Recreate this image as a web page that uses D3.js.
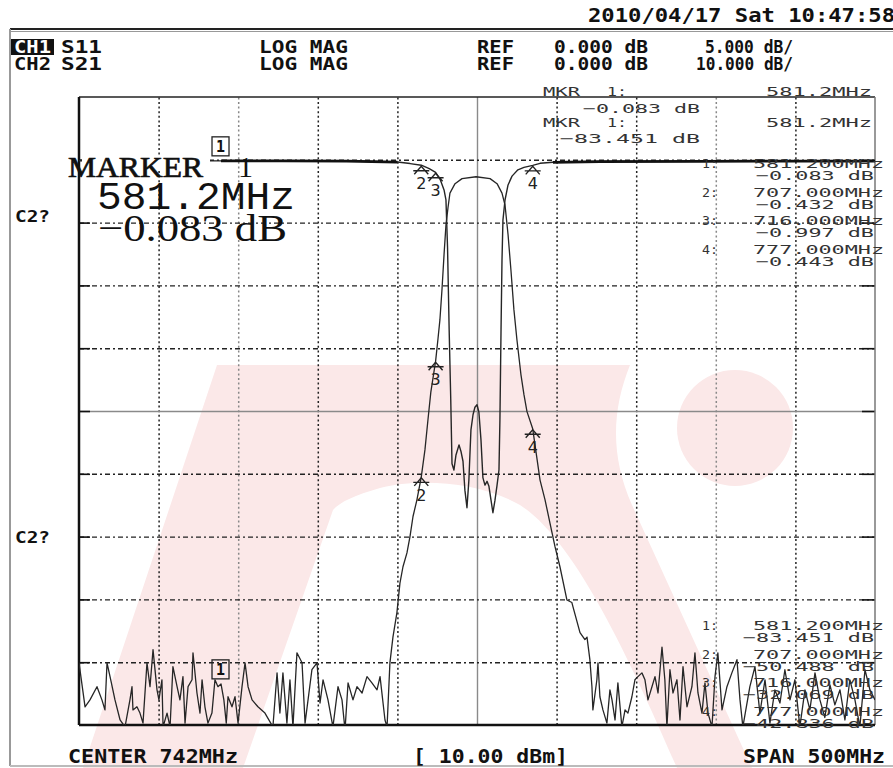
<!DOCTYPE html>
<html>
<head>
<meta charset="utf-8">
<script src="https://cdn.jsdelivr.net/npm/d3@7"></script>
<style>
body { margin: 0; background: #fff; }
svg { display: block; }
</style>
</head>
<body>
<script>
// sweep / channel settings
var centerMHz = 742, spanMHz = 500;
var s11Ref = 0, s11Div = 5;
var s21Ref = 0, s21Div = 10;

// grid positions (MHz and S21 dB)
var freqGrid = [542, 592, 642, 692, 742, 792, 842, 892, 942];
var dbGrid = [0, -10, -20, -30, -40, -50, -60, -70, -80];

// CH1 S11 trace [MHz, dB]
var s11Trace = [
  [492,-0.08],[540,-0.08],[581.2,-0.083],[620,-0.09],[660,-0.1],[692,-0.18],[700,-0.3],
  [707,-0.432],[712,-0.7],[716,-0.997],[719,-1.6],[721.3,-2.4],[722.5,-3.2],[723.5,-7.0],
  [724.5,-13.5],[725.5,-19.0],[726.3,-24.2],[727.5,-24.7],[728.8,-23.5],[730.7,-22.7],
  [731.9,-23.2],[733.2,-24.0],[734.4,-26.3],[735.7,-27.7],[736.9,-25.5],[738.2,-21.5],
  [739.5,-20.3],[740.7,-19.7],[742.0,-19.5],[743.2,-20.1],[744.5,-22.3],[745.7,-25.3],
  [747.0,-25.9],[748.3,-25.6],[749.5,-26.0],[750.8,-27.1],[752.0,-28.1],[753.3,-27.1],
  [754.6,-25.9],[755.8,-24.7],[756.4,-20.7],[757.1,-13.5],[757.7,-8.0],[758.3,-4.8],
  [759.6,-3.2],[761.5,-2.0],[764.0,-1.3],[767.7,-0.8],[771.5,-0.6],[777,-0.443],
  [781.6,-0.28],[789.7,-0.2],[819.2,-0.14],[882.1,-0.12],[992,-0.1]
];
// flat parts of S11 drawn heavy
var s11Heavy = [[576, 692], [789, 992]];

// CH2 S21 trace [MHz, dB]
var s21Trace = [
  [492,-80.1],[495.8,-87.1],[498.9,-86.0],[503.3,-83.9],[506.4,-86.0],[508.3,-87.6],[509.6,-80.1],
  [511.5,-82.3],[514.6,-86.0],[517.8,-89.2],[520.9,-90.3],[524.0,-86.0],[525.3,-83.9],[525.9,-87.6],
  [528.4,-87.1],[530.3,-88.1],[532.2,-89.7],[534.7,-80.1],[536.6,-83.9],[538.5,-78.0],[541.0,-84.4],
  [542.2,-86.0],[544.1,-82.8],[544.8,-90.3],[547.3,-88.1],[549.2,-90.3],[551.0,-80.7],[553.6,-83.9],
  [555.4,-86.0],[557.3,-82.3],[558.6,-89.7],[560.5,-83.9],[563.0,-82.8],[563.6,-78.5],[566.1,-84.9],
  [568.0,-88.1],[569.3,-82.8],[571.1,-87.1],[573.0,-89.7],[575.5,-88.1],[577.4,-82.8],[579.3,-83.9],
  [581.2,-83.451],[583.0,-86.0],[584.5,-89.7],[585.6,-85.5],[588.1,-87.1],[590.0,-85.5],[591.9,-89.7],
  [594.4,-83.9],[596.3,-80.1],[598.2,-83.9],[600.7,-86.0],[604.4,-87.1],[608.8,-88.1],[613.8,-90.3],
  [616.4,-81.7],[618.2,-88.1],[620.1,-81.7],[622.6,-89.7],[624.5,-82.8],[626.4,-90.3],[628.9,-78.5],
  [632.1,-80.1],[634.0,-89.7],[638.3,-81.2],[641.5,-80.1],[643.4,-86.5],[645.3,-82.8],[648.4,-86.0],
  [651.5,-90.3],[654.7,-83.9],[657.2,-86.0],[659.1,-90.8],[661.0,-83.3],[664.1,-86.0],[666.6,-83.9],
  [669.8,-84.9],[672.9,-82.3],[676.0,-83.3],[679.2,-84.4],[681.1,-82.3],[684.2,-89.2],[685.5,-90.3],
  [687.3,-80.1],[689.2,-76.0],[691.7,-72.1],[693.6,-67.4],[695.5,-64.8],[698.0,-62.6],[699.9,-60.0],
  [701.8,-56.8],[704.3,-54.1],[707,-50.488],[709.3,-46.2],[711.2,-41.4],[713.0,-37.0],[716,-32.069],
  [717.5,-28.5],[718.7,-25.5],[720.0,-20.7],[721.3,-15.1],[722.5,-10.4],[723.8,-7.6],[725.0,-5.3],
  [728.2,-3.8],[732.6,-3.0],[741.4,-2.7],[750.2,-3.0],[754.6,-3.8],[757.7,-5.3],[759.6,-7.2],
  [761.5,-11.9],[763.3,-17.5],[765.2,-23.9],[767.1,-28.7],[769.6,-34.2],[771.5,-37.4],[773.4,-40.1],
  [777,-42.836],[781.6,-51.0],[784.7,-54.1],[787.8,-57.8],[791.0,-61.6],[794.1,-64.8],[798.5,-70.1],
  [801.6,-70.5],[802.3,-71.2],[806.7,-75.3],[809.8,-76.4],[811.1,-76.0],[812.9,-79.6],[814.2,-83.9],
  [814.8,-87.6],[817.3,-82.8],[818.0,-80.1],[819.2,-85.5],[821.1,-87.6],[823.6,-89.7],[825.5,-84.4],
  [826.8,-86.0],[828.7,-89.2],[830.5,-83.3],[833.0,-90.3],[835.0,-87.6],[836.8,-88.1],[839.3,-85.5],
  [841.2,-82.8],[843.1,-82.3],[845.6,-81.7],[847.5,-82.8],[849.4,-86.0],[851.9,-83.9],[853.8,-82.3],
  [855.7,-84.9],[858.2,-77.6],[860.0,-82.8],[861.3,-90.3],[863.2,-81.2],[865.1,-84.9],[867.6,-82.8],
  [869.5,-89.2],[871.4,-80.7],[873.9,-87.1],[877.0,-83.9],[878.9,-78.5],[880.8,-84.9],[883.3,-88.1],
  [885.2,-83.3],[887.1,-88.1],[889.6,-90.3],[891.5,-82.3],[893.3,-78.5],[895.9,-87.6],[899.0,-83.9],
  [902.1,-81.7],[905.3,-79.6],[907.2,-86.0],[909.0,-90.3],[913.4,-83.9],[916.6,-80.7],[919.7,-88.1],
  [922.9,-82.8],[926.0,-89.7],[929.1,-84.4],[932.3,-86.5],[935.4,-81.2],[938.6,-86.0],[941.7,-82.8],
  [944.8,-90.3],[948.0,-84.4],[951.1,-87.6],[954.3,-81.7],[957.4,-86.0],[960.5,-88.8],[963.7,-83.6],
  [966.8,-86.8],[970.0,-84.4],[973.1,-89.2],[976.2,-82.8],[979.4,-86.0],[982.5,-90.3],[985.7,-81.2],
  [988.8,-84.4],[992,-86.0]
];

// markers
var mkrFreq = [581.2, 707, 716, 777];
var mkrS11 = [-0.083, -0.432, -0.997, -0.443];
var mkrS21 = [-83.451, -50.488, -32.069, -42.836];

// header / footer labels
var stamp = "2010/04/17 Sat 10:47:58";
var chanNames = ["CH1", "CH2"];
var chanParams = ["S11", "S21"];
var chanFormat = ["LOG MAG", "LOG MAG"];
var chanRef = ["0.000 dB", "0.000 dB"];
var chanScale = ["5.000 dB/", "10.000 dB/"];
var footer = ["CENTER 742MHz", "[ 10.00 dBm]", "SPAN 500MHz"];

var W = 893, H = 768;
var plot = {left: 79, top: 97, right: 875, bottom: 725};
var bitFont = "'DejaVu Sans Mono', monospace";
var vecFont = "'DejaVu Sans Mono', monospace";

var svg = d3.select("body").append("svg").attr("width", W).attr("height", H);

var x = d3.scaleLinear().domain([centerMHz - spanMHz / 2, centerMHz + spanMHz / 2]).range([plot.left, plot.right]);
var yS11 = d3.scaleLinear().domain([s11Ref + s11Div, s11Ref - 9 * s11Div]).range([plot.top, plot.bottom]);
var yS21 = d3.scaleLinear().domain([s21Ref + s21Div, s21Ref - 9 * s21Div]).range([plot.top, plot.bottom]);

function txt(g, px, py, s, o) {
  var t = g.append("text").attr("x", px).attr("y", py).text(s)
    .attr("font-family", o.font || bitFont)
    .attr("font-size", o.size || 16)
    .attr("font-weight", o.weight || "normal")
    .attr("fill", o.fill || "#111");
  if (o.len) t.attr("textLength", o.len).attr("lengthAdjust", "spacingAndGlyphs");
  if (o.anchor) t.attr("text-anchor", o.anchor);
  if (o.stroke) t.attr("stroke", o.fill || "#111").attr("stroke-width", o.stroke);
  return t;
}

// pale watermark logo
var wm = svg.append("g").attr("fill", "#fbe8e8");
wm.append("path").attr("d",
  "M83,768 L217,365 L630,365 C612,410 610,455 632,505 L752,768 L677,768 " +
  "C630,660 575,540 520,505 C480,482 420,478 380,488 C355,495 340,502 333,510 L243,768 Z");
wm.append("circle").attr("cx", 735).attr("cy", 428).attr("r", 58);

// outer frame
svg.append("line").attr("x1", 10).attr("x2", W).attr("y1", 29).attr("y2", 29).attr("stroke", "#222").attr("stroke-width", 2);
svg.append("line").attr("x1", 10).attr("x2", W).attr("y1", 31.5).attr("y2", 31.5).attr("stroke", "#999").attr("stroke-width", 1);
svg.append("line").attr("x1", 10).attr("x2", 10).attr("y1", 29).attr("y2", 766).attr("stroke", "#999").attr("stroke-width", 2);
svg.append("line").attr("x1", 10).attr("x2", W).attr("y1", 766).attr("y2", 766).attr("stroke", "#bbb").attr("stroke-width", 2);

// vertical grid
var gx = svg.append("g").attr("transform", "translate(0," + plot.bottom + ")")
  .call(d3.axisBottom(x).tickValues(freqGrid).tickSize(-(plot.bottom - plot.top)).tickFormat(""));
gx.select(".domain").remove();
gx.selectAll(".tick line")
  .attr("stroke", function(d) { return d === centerMHz ? "#8a8a8a" : (d === 592 || d === 892 ? "#888" : "#222"); })
  .attr("stroke-width", function(d) { return d === centerMHz ? 1.4 : 1.5; })
  .attr("stroke-dasharray", function(d) { return d === centerMHz ? null : "2,2.6"; });

// horizontal grid
var gy = svg.append("g").attr("transform", "translate(" + plot.left + ",0)")
  .call(d3.axisLeft(yS21).tickValues(dbGrid).tickSize(-(plot.right - plot.left)).tickFormat(""));
gy.select(".domain").remove();
gy.selectAll(".tick line")
  .attr("stroke", function(d) { return d === -40 ? "#8a8a8a" : "#222"; })
  .attr("stroke-width", 1.4)
  .attr("stroke-dasharray", function(d) { return d === -40 ? null : "5,3,2,3"; });
var gyL = svg.append("g").attr("transform", "translate(" + plot.left + ",0)")
  .call(d3.axisLeft(yS21).tickValues(dbGrid).tickSize(-11).tickFormat(""));
gyL.select(".domain").remove();
gyL.selectAll(".tick line").attr("stroke", "#111").attr("stroke-width", 1.6);
var gyR = svg.append("g").attr("transform", "translate(" + plot.right + ",0)")
  .call(d3.axisRight(yS21).tickValues(dbGrid).tickSize(-13).tickFormat(""));
gyR.select(".domain").remove();
gyR.selectAll(".tick line").attr("stroke", "#111").attr("stroke-width", 1.6);

// plot border
svg.append("line").attr("x1", plot.left).attr("x2", plot.right).attr("y1", plot.top).attr("y2", plot.top).attr("stroke", "#222").attr("stroke-width", 1.5);
svg.append("line").attr("x1", plot.right).attr("x2", plot.right).attr("y1", plot.top).attr("y2", plot.bottom).attr("stroke", "#777").attr("stroke-width", 1.5);
svg.append("line").attr("x1", plot.left).attr("x2", plot.left).attr("y1", plot.top).attr("y2", plot.bottom).attr("stroke", "#111").attr("stroke-width", 2.5);
svg.append("line").attr("x1", plot.left).attr("x2", plot.right).attr("y1", plot.bottom).attr("y2", plot.bottom).attr("stroke", "#111").attr("stroke-width", 2.5);

// traces
svg.append("clipPath").attr("id", "clip").append("rect")
  .attr("x", plot.left).attr("y", plot.top).attr("width", plot.right - plot.left).attr("height", plot.bottom - plot.top);
var traces = svg.append("g").attr("clip-path", "url(#clip)");
var lineS11 = d3.line().x(function(d) { return x(d[0]); }).y(function(d) { return yS11(d[1]); });
var lineS21 = d3.line().x(function(d) { return x(d[0]); }).y(function(d) { return yS21(d[1]); });

traces.append("path").datum(s21Trace).attr("d", lineS21)
  .attr("fill", "none").attr("stroke", "#262626").attr("stroke-width", 1.3).attr("stroke-linejoin", "round");
traces.append("path").datum(s11Trace).attr("d", lineS11)
  .attr("fill", "none").attr("stroke", "#262626").attr("stroke-width", 1.4).attr("stroke-linejoin", "round");
s11Heavy.forEach(function(r) {
  traces.append("path").datum(s11Trace.filter(function(d) { return d[0] >= r[0] && d[0] <= r[1]; }))
    .attr("d", lineS11).attr("fill", "none").attr("stroke", "#111").attr("stroke-width", 2.8);
});

// marker symbols
function markerSym(px, py, n) {
  var g = svg.append("g").attr("transform", "translate(" + px + "," + py + ")");
  g.append("path").attr("d", "M-7,9 L0,1 L7,9 M-8,5.5 L8,5.5").attr("fill", "none").attr("stroke", "#222").attr("stroke-width", 1.4);
  txt(g, 0, 24, n, {font: "'DejaVu Sans', sans-serif", size: 16, anchor: "middle", fill: "#222"});
}
function markerBox(px, py) {
  var g = svg.append("g").attr("transform", "translate(" + px + "," + py + ")");
  g.append("rect").attr("x", -9).attr("y", -24).attr("width", 17).attr("height", 19)
    .attr("fill", "none").attr("stroke", "#222").attr("stroke-width", 1.3);
  txt(g, -0.5, -8.5, "1", {font: bitFont, size: 15, weight: "bold", anchor: "middle"});
}
for (var i = 1; i < mkrFreq.length; i++) {
  markerSym(x(mkrFreq[i]), yS11(mkrS11[i]), String(i + 1));
  markerSym(x(mkrFreq[i]), yS21(mkrS21[i]), String(i + 1));
}
markerBox(x(mkrFreq[0]), yS11(mkrS11[0]));
markerBox(x(mkrFreq[0]), yS21(mkrS21[0]));

// header
txt(svg, 588, 22, stamp, {size: 19, weight: "bold", len: 307});
[53, 70].forEach(function(by, k) {
  if (k === 0) svg.append("rect").attr("x", 11).attr("y", by - 14).attr("width", 43).attr("height", 16).attr("fill", "#111");
  txt(svg, 14, by, chanNames[k], {size: 18, weight: "bold", len: 37, fill: k === 0 ? "#fff" : "#111"});
  txt(svg, 61, by, chanParams[k], {size: 18, weight: "bold", len: 41});
  txt(svg, 259, by, chanFormat[k], {size: 18, weight: "bold", len: 89});
  txt(svg, 477, by, "REF", {size: 18, weight: "bold", len: 37});
  txt(svg, 554, by, chanRef[k], {size: 18, weight: "bold", len: 94});
  txt(svg, 793, by, chanScale[k], {size: 18, weight: "bold", len: k === 0 ? 88 : 97, anchor: "end"});
});

// active marker readout
var fmtDb = function(v) { return "\u2212" + Math.abs(v).toFixed(3) + " dB"; };
var fmtMhz1 = function(v) { return v.toFixed(1) + "MHz"; };
var fmtMhz3 = function(v) { return v.toFixed(3) + "MHz"; };
var vo = {font: vecFont, size: 13, fill: "#333"};
[[96, 113, mkrS11[0], 117], [127, 143, mkrS21[0], 140]].forEach(function(r) {
  txt(svg, 543, r[0], "MKR", Object.assign({len: 37}, vo));
  txt(svg, 607, r[0], "1:", Object.assign({len: 20}, vo));
  txt(svg, 872, r[0], fmtMhz1(mkrFreq[0]), Object.assign({len: 106, anchor: "end"}, vo));
  txt(svg, 700, r[1], fmtDb(r[2]), Object.assign({len: r[3], anchor: "end"}, vo));
});

// marker lists
function markerList(y0, vals) {
  for (var j = 0; j < mkrFreq.length; j++) {
    var by = y0 + j * 28.5;
    txt(svg, 702, by, (j + 1) + ":", Object.assign({len: 16}, vo));
    txt(svg, 753, by, fmtMhz3(mkrFreq[j]), Object.assign({len: 131}, vo));
    txt(svg, 874, by + 12, fmtDb(vals[j]), Object.assign({len: Math.abs(vals[j]) >= 10 ? 131 : 118, anchor: "end"}, vo));
  }
}
markerList(168, mkrS11);
markerList(630, mkrS21);

// big marker annotation
svg.append("rect").attr("x", 82).attr("y", 155).attr("width", 128).attr("height", 14).attr("fill", "#fff");
txt(svg, 68, 177, "MARKER", {font: "'Liberation Serif', serif", size: 30, len: 135, stroke: 0.7});
txt(svg, 238, 177, "1", {font: "'Liberation Serif', serif", size: 30});
txt(svg, 97, 209, fmtMhz1(mkrFreq[0]), {font: "'Liberation Mono', monospace", size: 38, len: 198});
txt(svg, 98, 241, fmtDb(mkrS11[0]), {font: "'Liberation Serif', serif", size: 38, len: 189});

// side labels
txt(svg, 15, 222, "C2?", {size: 15, weight: "bold", len: 35});
txt(svg, 15, 543, "C2?", {size: 15, weight: "bold", len: 35});

// footer
txt(svg, 68, 763, footer[0], {size: 20, weight: "bold", len: 170});
txt(svg, 413, 763, footer[1], {size: 20, weight: "bold", len: 155});
txt(svg, 885, 763, footer[2], {size: 20, weight: "bold", len: 142, anchor: "end"});
</script>
</body>
</html>
